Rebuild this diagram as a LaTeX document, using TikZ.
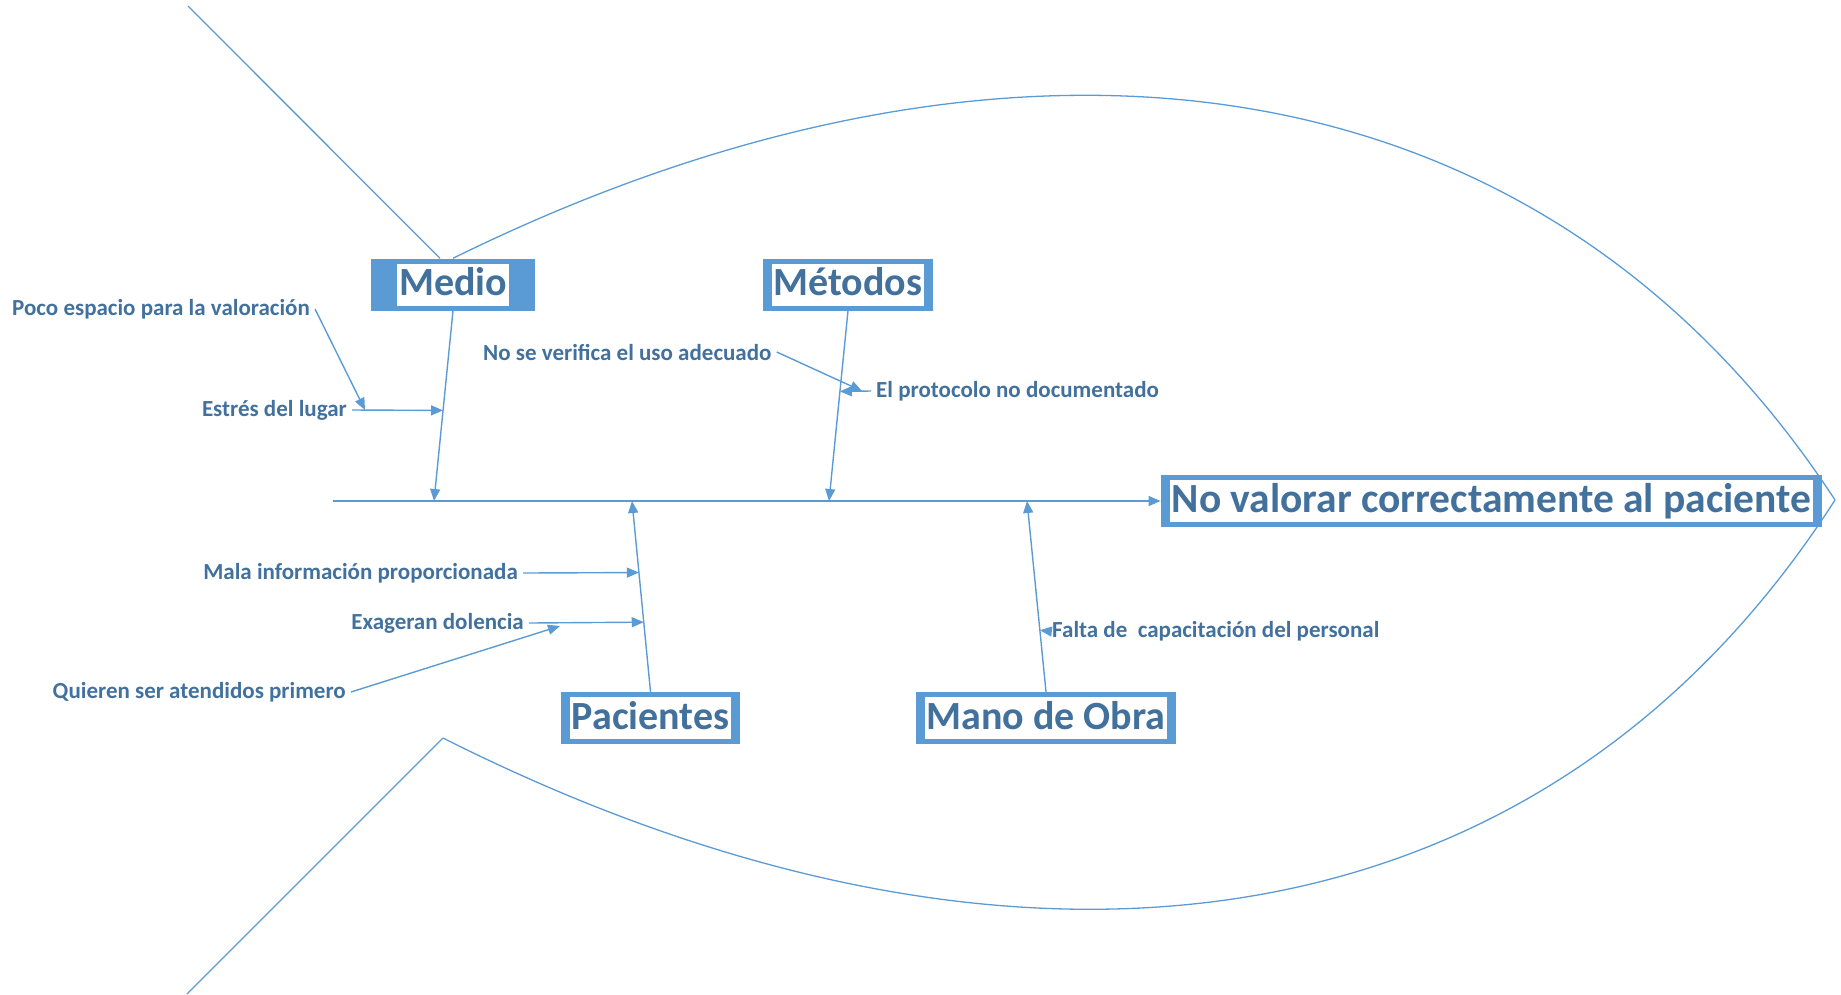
\documentclass[tikz,border=0pt]{standalone}
\usepackage{fontspec}
\setmainfont{Carlito}
\usepackage{xcolor}
\usepackage{tikz}
\usetikzlibrary{positioning,arrows.meta,calc,backgrounds}
\definecolor{fishline}{HTML}{5B9BD5}
\definecolor{fishtext}{HTML}{41719C}
\setlength{\fboxsep}{2pt}
\newcommand{\catlabel}[1]{\colorbox{white}{\rule[-8pt]{0pt}{38pt}\smash{#1}}}

\begin{document}
\begin{tikzpicture}[
    x=1pt, y=-1pt,
    every node/.style={font=\bfseries\fontsize{23}{26}\selectfont, text=fishtext},
    catbox/.style={fill=fishline, inner xsep=9pt, inner ysep=5pt, font=\bfseries\fontsize{40}{40}\selectfont},
    effectbox/.style={catbox, font=\bfseries\fontsize{41.5}{42}\selectfont},
    cause/.style={inner sep=5pt},
    outline/.style={draw=fishline, line width=1.3pt},
    arrow/.style={-{Triangle[length=12pt,width=10pt]}, draw=fishline, line width=1.4pt}
  ]
  \useasboundingbox (0,0) rectangle (1841,994);

  % --- Head (effect) and category boxes ---
  \node[effectbox] (effect) at (1491.5,501) {\catlabel{No valorar correctamente al paciente}};
  \node[catbox, inner xsep=26pt] (medio) at (453,284.5) {\catlabel{Medio}};
  \node[catbox] (metodos) at (848,284.5) {\catlabel{Métodos}};
  \node[catbox] (pacientes) at (650.5,718) {\catlabel{Pacientes}};
  \node[catbox] (mano) at (1046,718) {\catlabel{Mano de Obra}};

  % --- Spine ---
  \coordinate (tail) at (333,501);
  \coordinate (medioend) at (434,501);
  \coordinate (metodosend) at (829,501);
  \coordinate (pacientesend) at (632,501);
  \coordinate (manoend) at (1027,501);

  \draw[arrow] (tail) -- (effect.west);
  \draw[arrow] (medio.south) -- (medioend);
  \draw[arrow] (metodos.south) -- (metodosend);
  \draw[arrow] (pacientes.north) -- (pacientesend);
  \draw[arrow] (mano.north) -- (manoend);

  % --- Causes: Medio ---
  \node[cause, anchor=west] (poco) at (7,309) {Poco espacio para la valoración};
  \node[cause, anchor=east] (estres) at (352,410) {Estrés del lugar};
  \draw[arrow] (poco.east) -- ([xshift=13pt]estres.east);
  \draw[arrow] (estres.east) -- ($(medio.south)!0.524!(medioend)$);

  % --- Causes: Metodos ---
  \node[cause, anchor=west] (verifica) at (478,352) {No se verifica el uso adecuado};
  \node[cause, anchor=west] (protocolo) at (871,391) {El protocolo no documentado};
  \draw[arrow] (verifica.east) -- ([xshift=-9pt]protocolo.west);
  \draw[arrow] (protocolo.west) -- ($(metodos.south)!0.424!(metodosend)$);

  % --- Causes: Pacientes ---
  \node[cause, anchor=east] (mala) at (523,573) {Mala información proporcionada};
  \node[cause, anchor=east] (exageran) at (529,623) {Exageran dolencia};
  \node[cause, anchor=east] (quieren) at (351,692) {Quieren ser atendidos primero};
  \coordinate (quierenend) at (560,626);
  \draw[arrow] (mala.east) -- ($(pacientes.north)!0.625!(pacientesend)$);
  \draw[arrow] (exageran.east) -- ($(pacientes.north)!0.365!(pacientesend)$);
  \draw[arrow] (quieren.east) -- (quierenend);

  % --- Causes: Mano de Obra ---
  \node[cause, anchor=west] (falta) at (1047,631) {Falta de\ \ capacitación del personal};
  \draw[arrow] (falta.west) -- ($(mano.north)!0.323!(manoend)$);

  % --- Fish outline ---
  \begin{scope}[on background layer]
    \coordinate (tip) at (1835,500);
    \coordinate (topfin) at (188,6);
    \coordinate (lowjoint) at (443,738);
    \coordinate (lowfin) at (187,994);
    \draw[outline] (topfin) -- ([xshift=-13pt]medio.north);
    \draw[outline] (medio.north) .. controls (993,-8) and (1533,38) .. (tip);
    \draw[outline] (lowfin) -- (lowjoint);
    \draw[outline] (lowjoint) .. controls (993,1015) and (1533,970) .. (tip);
  \end{scope}

\end{tikzpicture}
\end{document}
